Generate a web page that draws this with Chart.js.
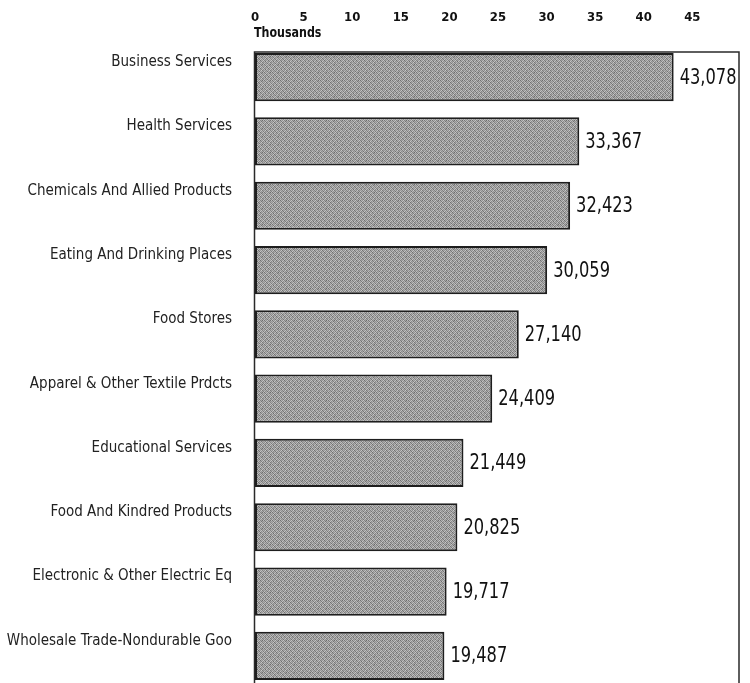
<!DOCTYPE html>
<html>
<head>
<meta charset="utf-8">
<script src="https://cdn.jsdelivr.net/npm/chart.js@4.4.1/dist/chart.umd.min.js"></script>
<style>
html,body{margin:0;padding:0;background:#fff;overflow:hidden;}
canvas{display:block;}
</style>
</head>
<body>
<canvas id="c" width="750" height="720" style="width:750px;height:720px"></canvas>
<script>
const categories = [
  "Business Services",
  "Health Services",
  "Chemicals And Allied Products",
  "Eating And Drinking Places",
  "Food Stores",
  "Apparel & Other Textile Prdcts",
  "Educational Services",
  "Food And Kindred Products",
  "Electronic & Other Electric Eq",
  "Wholesale Trade-Nondurable Goo"
];
const values = [43078, 33367, 32423, 30059, 27140, 24409, 21449, 20825, 19717, 19487];
const tickValues = [0, 5000, 10000, 15000, 20000, 25000, 30000, 35000, 40000, 45000];
const axisUnit = "Thousands";

const COND = "'DejaVu Sans Condensed', 'Liberation Sans', sans-serif";

// textured grey fill (fixed dither, style only)
function makePattern() {
  const p = document.createElement('canvas');
  p.width = 8; p.height = 8;
  const g = p.getContext('2d');
  const lv = [
    [0x74,0xb4,0x94,0xc4,0x84,0xa4,0x6c,0xbc],
    [0xac,0x7c,0xc0,0x8c,0xb4,0x74,0xa4,0x94],
    [0x90,0xc8,0x70,0xa8,0x98,0xc0,0x84,0xb0],
    [0xbc,0x88,0xac,0x78,0xc4,0x8c,0xb8,0x7c],
    [0x80,0xa0,0x98,0xbc,0x70,0xac,0x94,0xc4],
    [0xb8,0x6c,0xc4,0x90,0xa4,0x80,0xc0,0x88],
    [0x98,0xb0,0x84,0xb4,0x8c,0xc8,0x78,0xa0],
    [0xc0,0x8c,0xa8,0x74,0xb8,0x94,0xac,0x80]
  ];
  for (let y = 0; y < 8; y++) for (let x = 0; x < 8; x++) {
    const v = lv[y][x];
    g.fillStyle = 'rgb(' + v + ',' + v + ',' + v + ')';
    g.fillRect(x, y, 1, 1);
  }
  return document.getElementById('c').getContext('2d').createPattern(p, 'repeat');
}

const frame = {
  id: 'frame',
  beforeDatasetsDraw(chart) {
    const {ctx, chartArea: a} = chart;
    const top = a.top + 7;
    ctx.save();
    ctx.strokeStyle = '#2a2a2a';
    ctx.lineWidth = 1.5;
    ctx.beginPath();
    ctx.moveTo(a.left - 0.5, a.bottom + 30);
    ctx.lineTo(a.left - 0.5, top);
    ctx.lineTo(a.right, top);
    ctx.lineTo(a.right, a.bottom + 30);
    ctx.stroke();
    ctx.restore();
  },
  afterDatasetsDraw(chart) {
    const {ctx, chartArea: a} = chart;
    const meta = chart.getDatasetMeta(0);
    ctx.save();
    ctx.fillStyle = '#111';
    ctx.textAlign = 'left';
    ctx.textBaseline = 'middle';
    ctx.font = "21px " + COND;
    meta.data.forEach((bar, i) => {
      ctx.save();
      ctx.translate(bar.x + 6, bar.y + 1);
      ctx.scale(0.86, 1);
      ctx.fillText(values[i].toLocaleString('en-US'), 0, 0);
      ctx.restore();
    });
    // unit label
    ctx.font = "bold 14px " + COND;
    ctx.save();
    ctx.translate(a.left - 1, 33);
    ctx.scale(0.88, 1);
    ctx.fillText(axisUnit, 0, 0);
    ctx.restore();
    ctx.restore();
  }
};

new Chart(document.getElementById('c'), {
  type: 'bar',
  data: {
    labels: categories,
    datasets: [{
      data: values,
      backgroundColor: makePattern(),
      borderColor: '#1e1e1e',
      borderWidth: 2,
      borderSkipped: false,
      barPercentage: 0.75,
      categoryPercentage: 1.0
    }]
  },
  options: {
    indexAxis: 'y',
    responsive: false,
    animation: false,
    devicePixelRatio: 1,
    layout: {padding: {top: 0, right: 11, bottom: 12, left: 0}},
    plugins: {legend: {display: false}, tooltip: {enabled: false}},
    scales: {
      x: {
        position: 'top',
        min: 0,
        max: 49800,
        afterBuildTicks(s) { s.ticks = tickValues.map(v => ({value: v})); },
        afterFit(s) { s.height = 45; },
        grid: {display: false, drawTicks: false},
        border: {display: false},
        ticks: {
          padding: 20,
          color: '#111',
          maxRotation: 0,
          font: {family: COND, size: 13, weight: 'bold'},
          callback: v => String(v / 1000)
        }
      },
      y: {
        grid: {display: false, drawTicks: false},
        border: {display: false},
        afterFit(s) { s.width = 255; },
        ticks: {
          padding: 23,
          labelOffset: -15,
          color: '#222',
          font: {family: COND, size: 15}
        }
      }
    }
  },
  plugins: [frame]
});
</script>
</body>
</html>
